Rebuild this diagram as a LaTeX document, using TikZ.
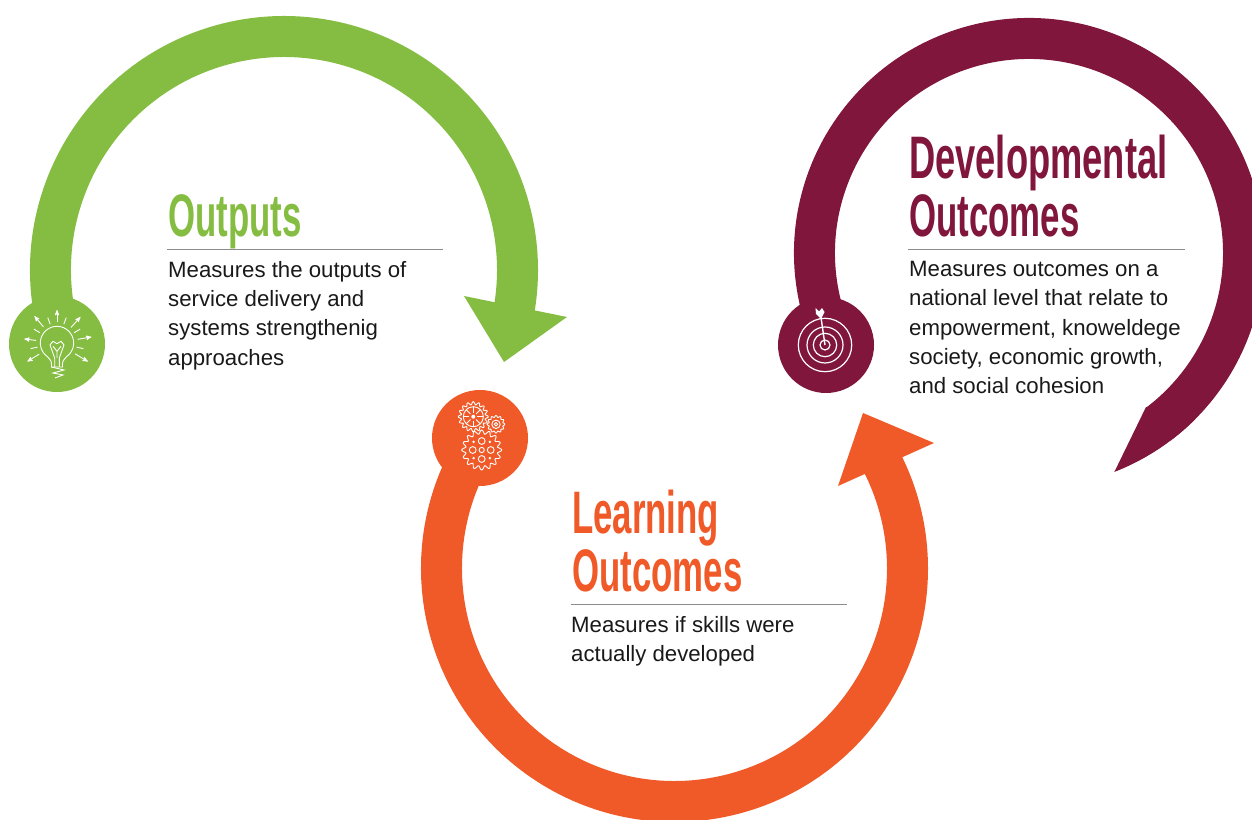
\documentclass[tikz,border=0pt]{standalone}
\usepackage{fontspec}
\setmainfont{Liberation Sans}
\newfontfamily\headfont[FakeStretch=0.58]{Liberation Sans}
\newfontfamily\wideheadfont[FakeStretch=0.605]{Liberation Sans}
\usetikzlibrary{arrows,positioning}
\definecolor{outgreen}{HTML}{84BD41}
\definecolor{learnorange}{HTML}{EF5A28}
\definecolor{devmaroon}{HTML}{80163B}
\newcommand{\gearoutline}[3]{\draw[icon,shift={(#1)}] plot[domain=0:360,samples=145] (\x:{#2*(0.9+0.1*cos(#3*\x))});}

\begin{document}
\begin{tikzpicture}[x=1pt,y=1pt,>=stealth']
        \tikzstyle{band}=[line width=41pt]
        \tikzstyle{dot}=[circle,minimum size=96pt,inner sep=0pt]
        \tikzstyle{icon}=[white,line width=0.9pt]
        \tikzstyle{headtext}=[inner sep=0pt,align=left,font=\headfont\bfseries\fontsize{60}{58}\selectfont]
        \tikzstyle{bodytext}=[inner sep=0pt,align=left,text=black!90,font=\fontsize{22.2}{29.3}\selectfont]
        \tikzstyle{rulebar}=[black!45,line width=1pt]

        \clip (0,0) rectangle (1252,819);

        \coordinate (greenhub) at (284,549);
        \coordinate (orangehub) at (674.5,250.5);
        \coordinate (maroonhub) at (1029,566);

        % bands
        \draw [band,outgreen] (greenhub) ++(195:233.5) arc[start angle=195,end angle=-10,radius=233.5];
        \draw [band,learnorange] (orangehub) ++(146:233) arc[start angle=146,end angle=387,radius=233];
        \draw [band,devmaroon] (maroonhub) ++(198:214.5) arc[start angle=198,end angle=-53,radius=214.5];

        % heads
        \fill [outgreen] (464,523) -- (567,502) -- (504,457) -- cycle;
        \fill [learnorange] (863,406) -- (934,376) -- (838,333) -- cycle;
        \fill [devmaroon] (maroonhub) ++(-68.7:235) arc[start angle=-68.7,end angle=-45,radius=235] -- (1146,412) -- cycle;

        \node [dot,fill=outgreen] (greendot) at (57,475) {};
        \node [dot,fill=learnorange] (orangedot) at (480,381) {};
        \node [dot,fill=devmaroon] (maroondot) at (826,474) {};

        % bulb
        \begin{scope}[shift={(57,476)}]
            \draw [icon] (-5.5,-24) -- (-5.5,-21) .. controls (-5.5,-17) and (-8,-16) .. (235:16.7) arc[start angle=235,end angle=-55,radius=16.7] .. controls (8,-16) and (5.5,-17) .. (5.5,-21) -- (5.5,-24) -- cycle;
            \draw [icon] (-5.5,-24) -- (7,-27) -- (-4,-30) -- (6,-32) -- (-2,-35);
            \draw [icon] (-2.3,-24) -- (-2.3,-15) -- (-7,-2) -- (-4,1.7) -- (0,-0.7) -- (4,1.7) -- (7,-2) -- (2.3,-15) -- (2.3,-24);
            \draw [icon] (-4,-3.3) -- (0,-8.3) -- (4,-3.3) (0,-8.3) -- (0,-15);
            \foreach \ang/\len in {90/33,48/35,130/35,10/35,173/33,-31/36,212/35}
                \draw [icon,->] (\ang:21) -- (\ang:\len);
            \foreach \ang in {70,110,31,149,-12,192}
                \draw [icon] (\ang:20) -- (\ang:27);
        \end{scope}

        % gears
        \gearoutline{473.3,402.3}{15}{16}
        \gearoutline{496,394.7}{8.8}{12}
        \gearoutline{481.7,369}{20}{16}
        \begin{scope}[shift={(473.3,402.3)}]
            \draw [icon] (0,0) circle (10);
            \fill [white] (0,0) circle (2);
            \foreach \ang in {0,45,...,315}
                \draw [icon] (\ang:4) -- (\ang:10);
        \end{scope}
        \draw [icon] (496,394.7) circle (4.2) (496,394.7) circle (1.8);
        \begin{scope}[shift={(481.7,369)}]
            \draw [icon] (0,0) circle (2.6);
            \foreach \ang in {0,90,180,270}
                \draw [icon] (\ang:9) circle (3.4);
            \foreach \ang in {45,135,225,315}
                \fill [white] (\ang:11.5) circle (1.4);
        \end{scope}

        % target
        \begin{scope}[shift={(825,474)}]
            \foreach \rad in {26.7,18,11.7,5}
                \draw [white,line width=1.2pt] (0,0) circle (\rad);
            \draw [white,line width=1.4pt] (0,0) -- (-4.5,31);
            \fill [white] (-4,26) -- (-9,31) -- (-9.5,37) -- (-6,33.5) -- (-3,37) -- (-0.5,33) -- cycle;
        \end{scope}

        \coordinate (outrule) at (167,569);
        \coordinate (learnrule) at (571,214);
        \coordinate (devrule) at (908,569);
        \draw [rulebar] (outrule) -- ++(276,0);
        \draw [rulebar] (learnrule) -- ++(276,0);
        \draw [rulebar] (devrule) -- ++(277,0);

        \node [headtext,text=outgreen,above right=1pt and 1pt of outrule] (outhead) {Outputs\vphantom{p}};
        \node [headtext,text=learnorange,above right=1pt and 1pt of learnrule] (learnhead) {Learning\\Outcomes\vphantom{p}};
        \node [headtext,text=devmaroon,above right=1pt and 1pt of devrule] (devhead) {\wideheadfont Developmental\\Outcomes\vphantom{p}};

        \node [bodytext,below right=11pt and 1pt of outrule] (outbody) {Measures the outputs of\\service delivery and\\systems strengthenig\\approaches};
        \node [bodytext,below right=11pt and 0pt of learnrule] (learnbody) {Measures if skills were\\actually developed};
        \node [bodytext,below right=11pt and 1pt of devrule] (devbody) {Measures outcomes on a\\national level that relate to\\empowerment, knoweldege\\society, economic growth,\\and social cohesion};
    \end{tikzpicture}
\end{document}
